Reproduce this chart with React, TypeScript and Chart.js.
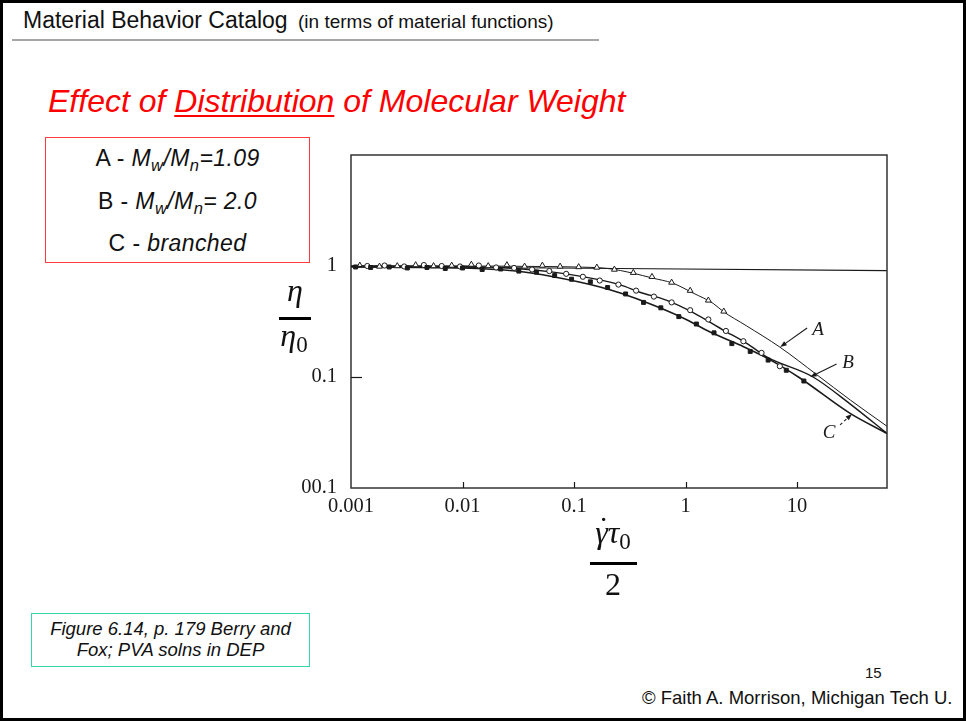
import React, { useEffect, useRef } from "react";
import { Chart, registerables } from "chart.js";

Chart.register(...registerables);

// Axis ranges and tick labels (log-log: reduced shear rate vs. reduced viscosity)
const X_MIN = 0.001;
const X_MAX = 64;
const Y_MIN = 0.01;
const Y_MAX = 10;
const X_TICKS = [0.001, 0.01, 0.1, 1, 10];
const X_TICK_LABELS = ["0.001", "0.01", "0.1", "1", "10"];
const Y_TICKS = [0.01, 0.1, 1];
const Y_TICK_LABELS = ["00.1", "0.1", "1"];

// Newtonian plateau reference line
const LEVEL_X = [0.001, 64];
const LEVEL_Y = [0.99, 0.91];

// Smooth curves through each sample
const CURVE_A_X = [0.001, 0.01, 0.05, 0.1, 0.2, 0.34, 0.5, 0.77, 1.17, 1.77, 2.17, 3.5, 7, 15, 30, 64];
const CURVE_A_Y = [1.0, 1.0, 0.99, 0.98, 0.95, 0.86, 0.78, 0.7, 0.57, 0.46, 0.39, 0.29, 0.186, 0.105, 0.062, 0.036];

const CURVE_B_X = [0.001, 0.01, 0.03, 0.065, 0.171, 0.26, 0.39, 0.68, 1.17, 2.17, 3.56, 5.38, 13.9, 30, 64];
const CURVE_B_Y = [1.0, 0.99, 0.95, 0.88, 0.75, 0.675, 0.58, 0.49, 0.38, 0.265, 0.2, 0.151, 0.1, 0.057, 0.031];

const CURVE_C_X = [0.001, 0.01, 0.03, 0.065, 0.171, 0.26, 0.51, 0.95, 1.66, 3.08, 5.38, 10.6, 29.9, 64];
const CURVE_C_Y = [0.98, 0.96, 0.9, 0.8, 0.647, 0.57, 0.445, 0.34, 0.254, 0.194, 0.148, 0.098, 0.047, 0.031];

// Measured points: A (Mw/Mn = 1.09), open triangles
const POINTS_A_X = [0.0012, 0.0018, 0.0026, 0.0038, 0.0055, 0.008, 0.012, 0.017, 0.025, 0.036, 0.052, 0.075, 0.11, 0.16, 0.23, 0.34, 0.5, 0.75, 1.1, 1.6, 2.2];
const POINTS_A_Y = [1.01, 0.99, 1.0, 1.02, 1.0, 1.01, 1.03, 1.0, 1.02, 0.99, 1.01, 0.99, 0.98, 0.97, 0.93, 0.87, 0.8, 0.71, 0.6, 0.49, 0.39];

// Measured points: B (Mw/Mn = 2.0), open circles
const POINTS_B_X = [0.0014, 0.002, 0.003, 0.0045, 0.0065, 0.0095, 0.014, 0.02, 0.029, 0.042, 0.06, 0.085, 0.12, 0.17, 0.25, 0.36, 0.52, 0.75, 1.1, 1.6, 2.3, 3.3, 4.8, 7.0];
const POINTS_B_Y = [1.0, 1.01, 0.99, 1.02, 1.0, 0.99, 1.01, 0.97, 0.96, 0.93, 0.9, 0.85, 0.8, 0.74, 0.68, 0.6, 0.53, 0.47, 0.4, 0.33, 0.26, 0.21, 0.165, 0.125];

// Measured points: C (branched), filled squares
const POINTS_C_X = [0.0011, 0.0015, 0.0022, 0.0032, 0.0048, 0.007, 0.01, 0.015, 0.022, 0.032, 0.046, 0.067, 0.095, 0.14, 0.2, 0.29, 0.42, 0.6, 0.87, 1.25, 1.8, 2.6, 3.8, 5.5, 8.0, 11.5];
const POINTS_C_Y = [0.98, 0.97, 0.98, 0.96, 0.97, 0.95, 0.96, 0.93, 0.94, 0.9, 0.88, 0.82, 0.76, 0.72, 0.64, 0.56, 0.47, 0.42, 0.35, 0.3, 0.25, 0.2, 0.17, 0.142, 0.115, 0.092];

// Curve call-outs, given in data coordinates
const CALLOUT_TEXT = ["A", "B", "C"];
const CALLOUT_AT = [[15.4, 0.265], [28.6, 0.134], [19.4, 0.0313]];
const CALLOUT_FROM = [[12.3, 0.276], [22.6, 0.131], [24.3, 0.037]];
const CALLOUT_TO = [[7.05, 0.186], [13.1, 0.1], [31.1, 0.0465]];
const CALLOUT_DASHED = [false, false, true];

const zip = (xs: number[], ys: number[]) => xs.map((x, i) => ({ x, y: ys[i] }));

const INK = "#1a1a1a";
const SERIF = '"Liberation Serif", "Times New Roman", serif';

const framePlugin = {
  id: "plotFrame",
  afterDatasetsDraw(chart: any) {
    const { ctx, chartArea: a, scales } = chart;
    const xs = scales.x;
    const ys = scales.y;
    ctx.save();
    // frame
    ctx.strokeStyle = "#333";
    ctx.lineWidth = 1.5;
    ctx.strokeRect(a.left, a.top, a.right - a.left, a.bottom - a.top);
    // inward tick marks
    ctx.lineWidth = 1.2;
    ctx.strokeStyle = INK;
    X_TICKS.slice(1).forEach((v) => {
      const px = Math.round(xs.getPixelForValue(v)) + 0.5;
      ctx.beginPath();
      ctx.moveTo(px, a.bottom);
      ctx.lineTo(px, a.bottom - 6);
      ctx.stroke();
    });
    Y_TICKS.slice(1).forEach((v) => {
      const py = Math.round(ys.getPixelForValue(v)) + 0.5;
      ctx.beginPath();
      ctx.moveTo(a.left, py);
      ctx.lineTo(a.left + 11, py);
      ctx.stroke();
    });
    // call-outs
    ctx.fillStyle = INK;
    ctx.font = `italic 19px ${SERIF}`;
    ctx.textAlign = "center";
    ctx.textBaseline = "middle";
    CALLOUT_TEXT.forEach((t, i) => {
      const tx = xs.getPixelForValue(CALLOUT_AT[i][0]);
      const ty = ys.getPixelForValue(CALLOUT_AT[i][1]);
      ctx.fillText(t, tx, ty);
      const x0 = xs.getPixelForValue(CALLOUT_FROM[i][0]);
      const y0 = ys.getPixelForValue(CALLOUT_FROM[i][1]);
      const x1 = xs.getPixelForValue(CALLOUT_TO[i][0]);
      const y1 = ys.getPixelForValue(CALLOUT_TO[i][1]);
      const ang = Math.atan2(y1 - y0, x1 - x0);
      const head = 7;
      ctx.lineWidth = 1.1;
      ctx.setLineDash(CALLOUT_DASHED[i] ? [3, 2.5] : []);
      ctx.beginPath();
      ctx.moveTo(x0, y0);
      ctx.lineTo(x1 - Math.cos(ang) * head * 0.8, y1 - Math.sin(ang) * head * 0.8);
      ctx.stroke();
      ctx.setLineDash([]);
      ctx.beginPath();
      ctx.moveTo(x1, y1);
      ctx.lineTo(x1 - head * Math.cos(ang - 0.35), y1 - head * Math.sin(ang - 0.35));
      ctx.lineTo(x1 - head * Math.cos(ang + 0.35), y1 - head * Math.sin(ang + 0.35));
      ctx.closePath();
      ctx.fill();
    });
    ctx.restore();
  },
};

// keep the plot area fixed: no extra label padding around the axes
const noScalePadding = (s: any) => {
  s.paddingTop = 0;
  s.paddingBottom = 0;
  s.paddingLeft = 0;
  s.paddingRight = 0;
};

function ViscosityChart() {
  const canvasRef = useRef<HTMLCanvasElement>(null);

  useEffect(() => {
    const canvas = canvasRef.current;
    if (!canvas) return;
    const curve = (label: string, xs: number[], ys: number[], width: number) => ({
      label,
      data: zip(xs, ys),
      showLine: true,
      borderColor: INK,
      borderWidth: width,
      pointRadius: 0,
      cubicInterpolationMode: "monotone" as const,
      fill: false,
    });
    const chart = new Chart(canvas, {
      type: "scatter",
      data: {
        datasets: [
          {
            label: "C - branched",
            data: zip(POINTS_C_X, POINTS_C_Y),
            pointStyle: "rect",
            pointRadius: 2.8,
            backgroundColor: INK,
            borderColor: INK,
            borderWidth: 1,
          },
          {
            label: "B - Mw/Mn = 2.0",
            data: zip(POINTS_B_X, POINTS_B_Y),
            pointStyle: "circle",
            pointRadius: 2.6,
            backgroundColor: "#fff",
            borderColor: INK,
            borderWidth: 1,
          },
          {
            label: "A - Mw/Mn = 1.09",
            data: zip(POINTS_A_X, POINTS_A_Y),
            pointStyle: "triangle",
            pointRadius: 3.4,
            backgroundColor: "#fff",
            borderColor: INK,
            borderWidth: 1,
          },
          curve("A", CURVE_A_X, CURVE_A_Y, 1),
          curve("B", CURVE_B_X, CURVE_B_Y, 1.4),
          curve("C", CURVE_C_X, CURVE_C_Y, 1.6),
          curve("η/η0 = 1", LEVEL_X, LEVEL_Y, 1.2),
        ],
      },
      options: {
        responsive: false,
        animation: false,
        devicePixelRatio: 1,
        layout: { padding: { top: 10, right: 13, left: 0, bottom: 0 } },
        plugins: { legend: { display: false }, tooltip: { enabled: false } },
        scales: {
          x: {
            type: "logarithmic",
            min: X_MIN,
            max: X_MAX,
            afterBuildTicks: (s: any) => {
              s.ticks = X_TICKS.map((v) => ({ value: v }));
            },
            afterFit: (s: any) => {
              s.height = 37;
              noScalePadding(s);
            },
            grid: { display: false, drawTicks: false },
            border: { display: false },
            ticks: {
              autoSkip: false,
              maxRotation: 0,
              padding: 6,
              color: INK,
              font: { family: SERIF, size: 20.5 },
              callback: (_v: any, i: number) => X_TICK_LABELS[i],
            },
          },
          y: {
            type: "logarithmic",
            min: Y_MIN,
            max: Y_MAX,
            afterBuildTicks: (s: any) => {
              s.ticks = Y_TICKS.map((v) => ({ value: v }));
            },
            afterFit: (s: any) => {
              s.width = 61;
              noScalePadding(s);
            },
            grid: { display: false, drawTicks: false },
            border: { display: false },
            ticks: {
              autoSkip: false,
              padding: 14,
              color: INK,
              font: { family: SERIF, size: 20.5 },
              callback: (_v: any, i: number) => Y_TICK_LABELS[i],
            },
          },
        },
      },
      plugins: [framePlugin],
    } as any);
    return () => chart.destroy();
  }, []);

  return (
    <canvas
      ref={canvasRef}
      width={610}
      height={380}
      style={{ position: "absolute", left: 290, top: 145, width: 610, height: 380 }}
    />
  );
}

const SANS = '"Liberation Sans", Arial, Helvetica, sans-serif';
const sub: React.CSSProperties = { fontSize: "0.72em", verticalAlign: "-0.3em", lineHeight: 0 };
const abs = (s: React.CSSProperties): React.CSSProperties => ({ position: "absolute", whiteSpace: "nowrap", ...s });
const keyLine = (top: number): React.CSSProperties =>
  abs({ left: 45, top, width: 265, textAlign: "center", fontSize: 23, lineHeight: "23px", letterSpacing: "0.4px" });

export default function App() {
  return (
    <div
      style={{
        position: "fixed",
        left: 0,
        top: 0,
        width: 966,
        height: 721,
        background: "#fff",
        overflow: "hidden",
        fontFamily: SANS,
        color: "#111",
      }}
    >
      {/* header */}
      <div style={abs({ left: 23, top: 9, fontSize: 23, lineHeight: "23px" })}>Material Behavior Catalog</div>
      <div style={abs({ left: 298, top: 12, fontSize: 19, lineHeight: "19px" })}>(in terms of material functions)</div>
      <div style={abs({ left: 12, top: 39, width: 587, height: 2, background: "#a6a6a6" })} />

      {/* title */}
      <div
        style={abs({
          left: 48,
          top: 85,
          fontSize: 32,
          lineHeight: "32px",
          fontStyle: "italic",
          color: "#ff0000",
        })}
      >
        Effect of{" "}
        <span style={{ textDecoration: "underline", textDecorationThickness: "2px", textUnderlineOffset: "3px" }}>
          Distribution
        </span>{" "}
        of Molecular Weight
      </div>

      {/* sample key */}
      <div style={abs({ left: 45, top: 137, width: 265, height: 126, border: "1px solid #ff3b3b", boxSizing: "border-box" })} />
      <div style={keyLine(147.2)}>
        A - <i>M<span style={sub}>w</span>/M<span style={sub}>n</span>=1.09</i>
      </div>
      <div style={keyLine(189.9)}>
        B - <i>M<span style={sub}>w</span>/M<span style={sub}>n</span>= 2.0</i>
      </div>
      <div style={keyLine(232.3)}>
        C - <i>branched</i>
      </div>

      {/* chart */}
      <ViscosityChart />

      {/* y-axis title: η / η0 */}
      <div style={abs({ left: 245, top: 274, width: 100, textAlign: "center", fontFamily: SERIF, fontStyle: "italic", fontSize: 32, lineHeight: "32px" })}>
        η
      </div>
      <div style={abs({ left: 279, top: 317, width: 32, height: 3, background: "#000" })} />
      <div style={abs({ left: 244, top: 319, width: 100, textAlign: "center", fontFamily: SERIF, fontSize: 32, lineHeight: "32px" })}>
        <i>η</i>
        <span style={{ fontSize: 23, position: "relative", top: 6 }}>0</span>
      </div>

      {/* x-axis title: γ̇τ0 / 2 */}
      <div style={abs({ left: 563, top: 516, width: 100, textAlign: "center", fontFamily: SERIF, fontSize: 32, lineHeight: "32px" })}>
        <i style={{ position: "relative", display: "inline-block" }}>
          γ
          <span style={{ position: "absolute", left: 3, top: -4, fontStyle: "normal" }}>˙</span>
        </i>
        <i>τ</i>
        <span style={{ fontSize: 23, position: "relative", top: 6 }}>0</span>
      </div>
      <div style={abs({ left: 590, top: 562, width: 47, height: 3, background: "#000" })} />
      <div style={abs({ left: 563, top: 568, width: 100, textAlign: "center", fontFamily: SERIF, fontSize: 32, lineHeight: "32px" })}>
        2
      </div>

      {/* source note */}
      <div style={abs({ left: 31, top: 613, width: 279, height: 54, border: "1.5px solid #34d6a8", boxSizing: "border-box" })} />
      <div style={abs({ left: 31, top: 620, width: 279, textAlign: "center", fontSize: 18.5, lineHeight: "18.5px", fontStyle: "italic" })}>
        Figure 6.14, p. 179 Berry and
      </div>
      <div style={abs({ left: 31, top: 641, width: 279, textAlign: "center", fontSize: 18.5, lineHeight: "18.5px", fontStyle: "italic" })}>
        Fox; PVA solns in DEP
      </div>

      {/* footer */}
      <div style={abs({ left: 865, top: 665, fontSize: 15, lineHeight: "15px" })}>15</div>
      <div style={abs({ left: 642, top: 689, fontSize: 18.5, lineHeight: "18.5px" })}>© Faith A. Morrison, Michigan Tech U.</div>

      {/* slide frame */}
      <div style={abs({ left: 0, top: 0, width: 966, height: 721, border: "3px solid #000", boxSizing: "border-box", pointerEvents: "none" })} />
    </div>
  );
}
